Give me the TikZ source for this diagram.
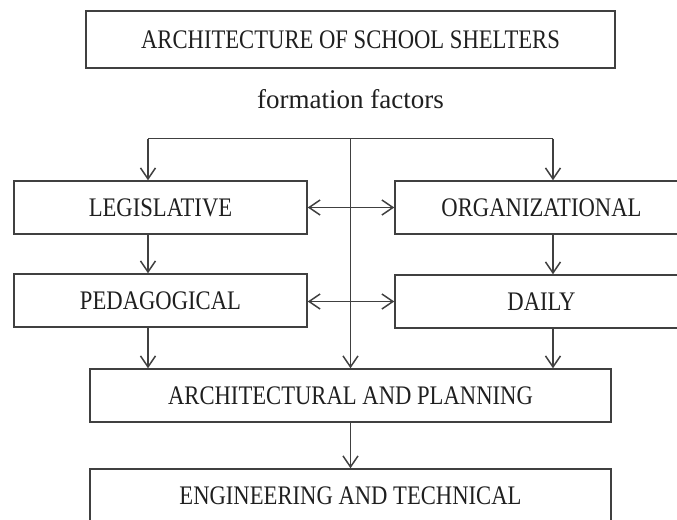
\documentclass[tikz,border=0pt]{standalone}
\usepackage{fontspec}
\setmainfont{Liberation Serif}
\newfontfamily\capsfont[FakeStretch=0.845]{Liberation Serif}
\usetikzlibrary{arrows.meta}

\begin{document}
\begin{tikzpicture}[x=0.5pt, y=-0.5pt,
    box/.style={draw=black!75, line width=0.75pt, minimum width=146.5pt, minimum height=26.5pt,
                inner sep=0pt, text=black!88, font=\capsfont\fontsize{13.4pt}{15pt}\selectfont},
    widebox/.style={box, minimum width=260.5pt},
    arr/.style={draw=black!75, line width=0.75pt, -{Straight Barb[length=5.5pt, width=7.5pt]}},
    arrs/.style={arr, {Straight Barb[length=5.5pt, width=7.5pt]}-{Straight Barb[length=5.5pt, width=7.5pt]}}]
    \useasboundingbox (0,0) rectangle (677,520);
    \clip (0,0) rectangle (677,520);

    % Title and caption
    \node[box, minimum width=264.5pt, minimum height=28.5pt] (title) at (350.5, 39.5) {ARCHITECTURE OF SCHOOL SHELTERS};
    \node[anchor=base, text=black!88, font=\fontsize{13.5pt}{15pt}\selectfont] (factors) at (350.5, 108) {formation factors};

    % Factor boxes
    \node[box] (legis) at (160.5, 207.5) {LEGISLATIVE};
    \node[box] (organ) at (541.5, 207.5) {ORGANIZATIONAL};
    \node[box] (pedag) at (160.5, 300.5) {PEDAGOGICAL};
    \node[box] (daily) at (541.5, 301.5) {DAILY};
    \node[widebox] (archpl) at (350.5, 395.5) {ARCHITECTURAL AND PLANNING};
    \node[widebox] (engtech) at (350.5, 495.5) {ENGINEERING AND TECHNICAL};

    % Distribution bar
    \coordinate (barL) at (148, 138.5);
    \coordinate (barC) at (350.5, 138.5);
    \coordinate (barR) at (553, 138.5);
    \draw[draw=black!75, line width=0.75pt] (barL) -- (barR);

    % Downward arrows
    \draw[arr] (barL) -- (barL |- legis.north);
    \draw[arr] (barR) -- (barR |- organ.north);
    \draw[arr] (barC) -- (archpl.north);
    \draw[arr] (legis.south -| barL) -- (pedag.north -| barL);
    \draw[arr] (organ.south -| barR) -- (daily.north -| barR);
    \draw[arr] (pedag.south -| barL) -- (archpl.north -| barL);
    \draw[arr] (daily.south -| barR) -- (archpl.north -| barR);
    \draw[arr] (archpl) -- (engtech);

    % Two-way links
    \draw[arrs] (legis.east) -- (organ.west);
    \draw[arrs] ([yshift=-0.5pt]pedag.east) -- ([yshift=-0.5pt]pedag.east -| daily.west);
\end{tikzpicture}
\end{document}
